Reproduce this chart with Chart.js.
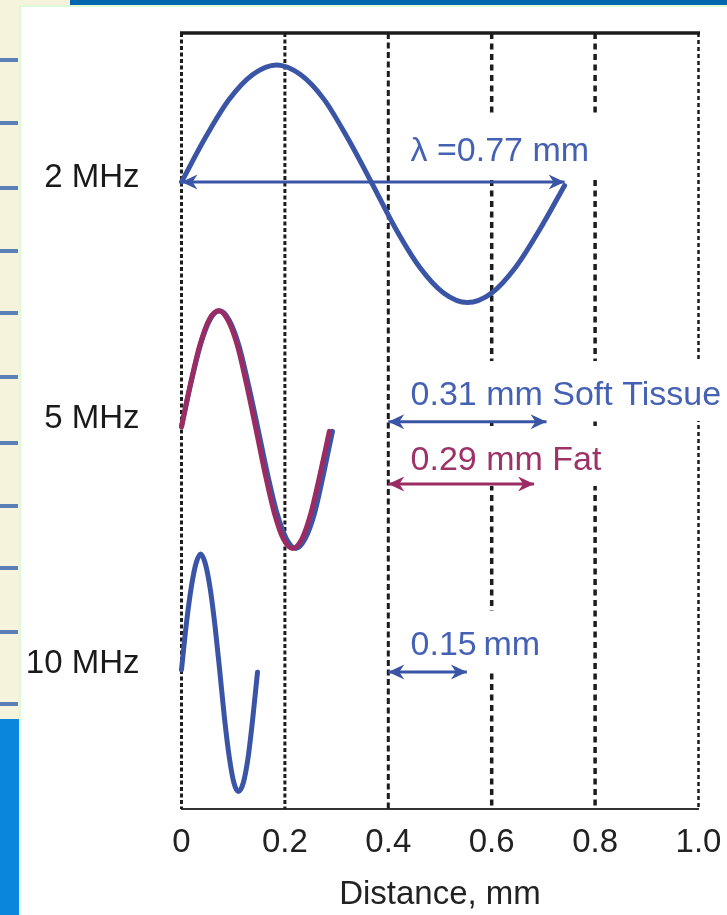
<!DOCTYPE html>
<html>
<head>
<meta charset="utf-8">
<title>Wavelength vs frequency</title>
<script src="https://cdn.jsdelivr.net/npm/chart.js@4.4.1/dist/chart.umd.min.js"></script>
<style>
  html, body { margin: 0; padding: 0; background: #fff; }
  body { width: 727px; height: 915px; position: relative; overflow: hidden; }
  .deco { position: absolute; }
  .tick { position: absolute; left: 0; width: 18px; height: 4px; background: #5b80b8; }
  #chart { position: absolute; left: 0; top: 0; }
</style>
</head>
<body>
<!-- slide background around the figure -->
<div class="deco" style="left:0;top:0;width:19px;height:719px;background:#f5f3dc"></div>
<div class="deco" style="left:0;top:0;width:70px;height:6px;background:#f5f3dc"></div>
<div class="deco" style="left:70px;top:0;width:657px;height:5px;background:#0066ae"></div>
<div class="deco" style="left:19px;top:5px;width:708px;height:2px;background:#dcfad6"></div>
<div class="deco" style="left:19px;top:5px;width:2px;height:910px;background:#dcfad6"></div>
<div class="deco" style="left:0;top:719px;width:19px;height:196px;background:#0a87dc"></div>
<div class="tick" style="top:58px"></div>
<div class="tick" style="top:121px"></div>
<div class="tick" style="top:186px"></div>
<div class="tick" style="top:249px"></div>
<div class="tick" style="top:311px"></div>
<div class="tick" style="top:375px"></div>
<div class="tick" style="top:441px"></div>
<div class="tick" style="top:504px"></div>
<div class="tick" style="top:566px"></div>
<div class="tick" style="top:630px"></div>
<div class="tick" style="top:702px"></div>

<canvas id="chart" width="727" height="915"></canvas>

<script>
// x axis (mm)
const xTicks = [0, 0.2, 0.4, 0.6, 0.8, 1.0];
const xTickLabels = ['0', '0.2', '0.4', '0.6', '0.8', '1.0'];

// rows on the hidden y axis (one wave per frequency)
const rowLabels = ['2 MHz', '5 MHz', '10 MHz'];
const rowLabelY = [5.29, 3.267, 1.219];
const rowCenters = [5.252, 3.183, 1.156];

// waves: x in mm, y in amplitude units around the row centre
const wave2X = [0, 0.046, 0.092, 0.138, 0.184, 0.230, 0.276, 0.321, 0.367,
                0.414, 0.460, 0.507, 0.553, 0.600, 0.647, 0.694, 0.741];
const wave2Y = [0, 0.37, 0.69, 0.90, 0.98, 0.90, 0.69, 0.37, 0,
                -0.39, -0.71, -0.93, -1.01, -0.93, -0.71, -0.39, -0.03];
const wave5SoftX = [0, 0.0185, 0.037, 0.0555, 0.074, 0.0925, 0.111, 0.1295, 0.148,
                    0.1665, 0.185, 0.203, 0.221, 0.239, 0.257, 0.2745, 0.292];
const wave5SoftY = [0.02, 0.39, 0.71, 0.92, 0.99, 0.91, 0.70, 0.37, 0,
                    -0.38, -0.71, -0.92, -1.0, -0.92, -0.71, -0.38, -0.02];
const wave5FatX = [0, 0.018, 0.036, 0.054, 0.072, 0.090, 0.108, 0.126, 0.144,
                   0.162, 0.180, 0.197, 0.215, 0.233, 0.250, 0.268, 0.286];
const wave5FatY = [0.02, 0.39, 0.71, 0.92, 0.99, 0.91, 0.70, 0.37, 0,
                   -0.38, -0.71, -0.92, -1.0, -0.92, -0.71, -0.38, -0.02];
const wave10X = [0, 0.009, 0.0185, 0.028, 0.037, 0.046, 0.0555, 0.065, 0.074,
                 0.083, 0.092, 0.101, 0.110, 0.120, 0.129, 0.138, 0.147];
const wave10Y = [0.01, 0.38, 0.69, 0.90, 0.98, 0.90, 0.69, 0.37, 0,
                 -0.39, -0.71, -0.93, -1.01, -0.93, -0.72, -0.39, -0.01];

// wavelength arrows and their labels
const arrowLabels = ['λ =0.77 mm', '0.31 mm Soft Tissue', '0.29 mm Fat', '0.15\u2009mm'];
const arrowFrom = [0, 0.4, 0.4, 0.4];
const arrowTo = [0.741, 0.706, 0.682, 0.552];
const arrowY = [5.252, 3.244, 2.722, 1.148];
const labelX = 0.443;
const labelY = [5.428, 3.384, 2.840, 1.290];

// colours
const BLUE = '#3b55a6';
const PURPLE = '#9b2c63';
const TEXT_BLUE = '#4461b4';
const TEXT_PURPLE = '#9c3268';
const arrowColors = [BLUE, BLUE, PURPLE, BLUE];
const labelColors = [TEXT_BLUE, TEXT_BLUE, TEXT_PURPLE, TEXT_BLUE];

// dashed vertical guide lines, one style per x tick
const gridDash = [[4, 2.5], [4, 2.5], [6, 3.5], [6, 4.5], [6, 4.5], [4, 3]];
const gridWidth = [3, 3, 3, 3.5, 3.5, 2.5];

const FONT = "'Liberation Sans', Arial, sans-serif";
Chart.defaults.font.family = FONT;

function wavePoints(xs, ys, center) {
    return xs.map((x, i) => ({ x: x, y: center + ys[i] }));
}

function waveDataset(xs, ys, center, color, order) {
    return {
        data: wavePoints(xs, ys, center),
        borderColor: color,
        borderWidth: 5,
        borderCapStyle: 'round',
        cubicInterpolationMode: 'monotone',
        pointRadius: 0,
        clip: false,
        order: order
    };
}

const datasets = [
    waveDataset(wave2X, wave2Y, rowCenters[0], BLUE, 0),
    waveDataset(wave5SoftX, wave5SoftY, rowCenters[1], BLUE, 2),
    waveDataset(wave5FatX, wave5FatY, rowCenters[1], PURPLE, 1),
    waveDataset(wave10X, wave10Y, rowCenters[2], BLUE, 0)
];

arrowLabels.forEach((label, i) => {
    datasets.push({
        data: [{ x: arrowFrom[i], y: arrowY[i] }, { x: arrowTo[i], y: arrowY[i] }],
        borderColor: arrowColors[i],
        borderWidth: 3,
        pointRadius: 0,
        clip: false,
        arrow: true,
        order: 0
    });
});

function drawHead(ctx, tipX, tipY, dir) {
    const L = 16, H = 7.5, N = 5;
    ctx.beginPath();
    ctx.moveTo(tipX, tipY);
    ctx.lineTo(tipX - dir * L, tipY - H);
    ctx.lineTo(tipX - dir * (L - N), tipY);
    ctx.lineTo(tipX - dir * L, tipY + H);
    ctx.closePath();
    ctx.fill();
}

const labelFont = '34px ' + FONT;

// guide lines, top rule and white boxes behind the labels
const figurePlugin = {
    id: 'figure',
    beforeDatasetsDraw(chart) {
        const ctx = chart.ctx;
        const { left, right, top, bottom } = chart.chartArea;
        const xs = chart.scales.x;
        const ys = chart.scales.y;
        ctx.save();
        ctx.strokeStyle = '#1c1c1c';
        xTicks.forEach((v, i) => {
            const px = xs.getPixelForValue(v);
            ctx.setLineDash(gridDash[i]);
            ctx.lineWidth = gridWidth[i];
            ctx.beginPath();
            ctx.moveTo(px, top);
            ctx.lineTo(px, bottom);
            ctx.stroke();
        });
        ctx.setLineDash([]);
        ctx.lineWidth = 3.5;
        ctx.beginPath();
        ctx.moveTo(left - 1.5, top);
        ctx.lineTo(right + 1.5, top);
        ctx.stroke();

        ctx.font = labelFont;
        ctx.fillStyle = '#ffffff';
        arrowLabels.forEach((label, i) => {
            const w = ctx.measureText(label).width;
            const bx = xs.getPixelForValue(labelX) - 9;
            const base = ys.getPixelForValue(labelY[i]);
            ctx.fillRect(bx, base - 44, w + 24, 60);
        });
        ctx.restore();
    },
    afterDatasetsDraw(chart) {
        const ctx = chart.ctx;
        const xs = chart.scales.x;
        const ys = chart.scales.y;
        ctx.save();
        chart.data.datasets.forEach((ds, i) => {
            if (!ds.arrow) return;
            const pts = chart.getDatasetMeta(i).data;
            ctx.fillStyle = ds.borderColor;
            drawHead(ctx, pts[0].x, pts[0].y, -1);
            drawHead(ctx, pts[1].x, pts[1].y, 1);
        });
        ctx.font = labelFont;
        ctx.textBaseline = 'alphabetic';
        ctx.textAlign = 'left';
        arrowLabels.forEach((label, i) => {
            ctx.fillStyle = labelColors[i];
            ctx.fillText(label, xs.getPixelForValue(labelX), ys.getPixelForValue(labelY[i]));
        });
        ctx.restore();
    }
};

new Chart(document.getElementById('chart'), {
    type: 'line',
    data: { datasets: datasets },
    options: {
        responsive: false,
        animation: false,
        devicePixelRatio: 1,
        layout: { padding: { left: 0, right: 28.5, top: 33, bottom: 0 } },
        plugins: {
            legend: { display: false },
            tooltip: { enabled: false }
        },
        scales: {
            x: {
                type: 'linear',
                min: 0,
                max: 1,
                afterBuildTicks: (scale) => { scale.ticks = xTicks.map(v => ({ value: v })); },
                afterFit: (scale) => {
                    scale.height = 106;
                    scale.paddingLeft = 0;
                    scale.paddingRight = 0;
                },
                grid: { display: false },
                border: { display: true, color: '#333333', width: 2 },
                ticks: {
                    autoSkip: false,
                    maxRotation: 0,
                    padding: 6,
                    color: '#222222',
                    font: { size: 33, lineHeight: 1.2 },
                    callback: (v, i) => xTickLabels[i]
                },
                title: {
                    display: true,
                    text: 'Distance, mm',
                    color: '#222222',
                    font: { size: 33, lineHeight: 1.1 },
                    padding: { top: 0, bottom: 2 }
                }
            },
            y: {
                type: 'linear',
                min: 0,
                max: 6.5,
                afterBuildTicks: (scale) => { scale.ticks = rowLabelY.map(v => ({ value: v })); },
                afterFit: (scale) => {
                    scale.width = 181.5;
                    scale.paddingTop = 0;
                    scale.paddingBottom = 0;
                },
                grid: { display: false },
                border: { display: false },
                ticks: {
                    autoSkip: false,
                    padding: 34,
                    color: '#1a1a1a',
                    font: { size: 33 },
                    callback: (v, i) => rowLabels[i]
                }
            }
        }
    },
    plugins: [figurePlugin]
});
</script>
</body>
</html>
